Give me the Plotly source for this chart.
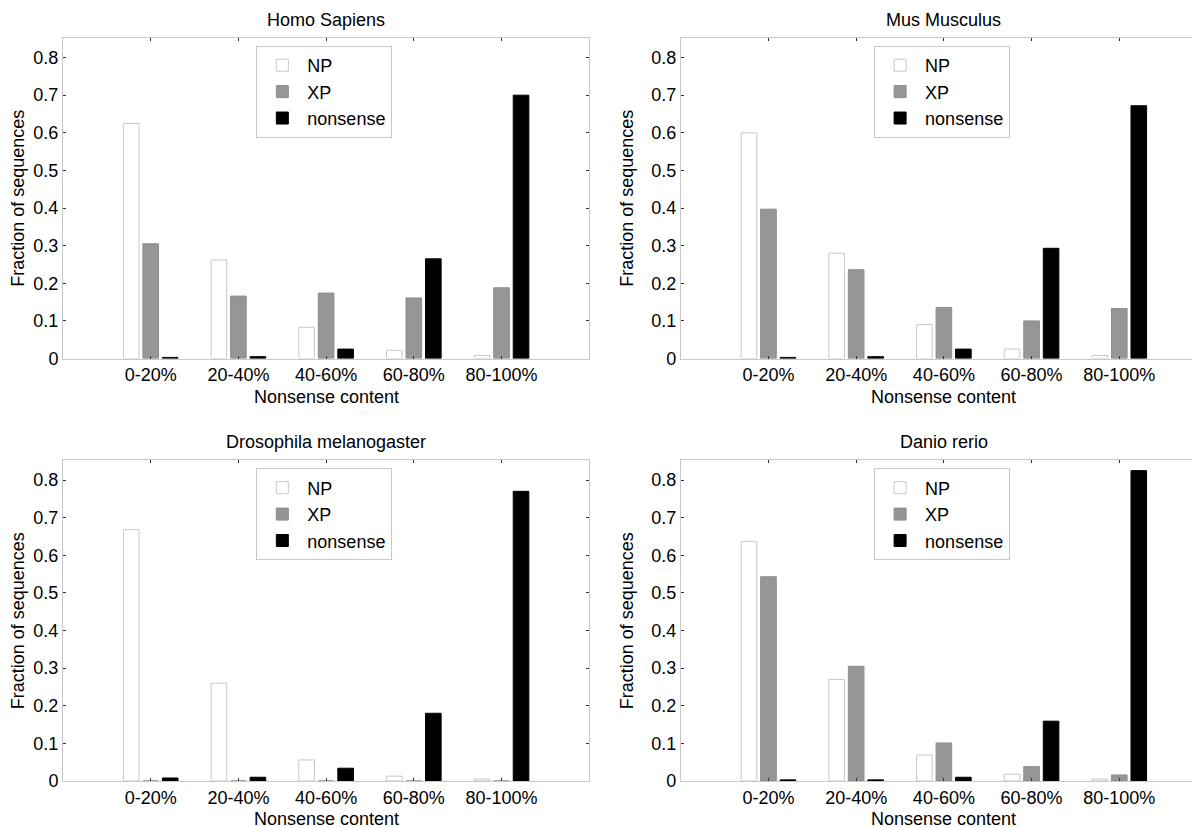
import plotly.graph_objects as go
from plotly.subplots import make_subplots

categories = ["0-20%", "20-40%", "40-60%", "60-80%", "80-100%"]
series_names = ["NP", "XP", "nonsense"]
titles = ["Homo Sapiens", "Mus Musculus", "Drosophila melanogaster", "Danio rerio"]
x_title = "Nonsense content"
y_title = "Fraction of sequences"

homo_np = [0.625, 0.262, 0.083, 0.022, 0.008]
homo_xp = [0.305, 0.166, 0.174, 0.161, 0.188]
homo_ns = [0.003, 0.005, 0.025, 0.265, 0.700]

mus_np = [0.600, 0.280, 0.090, 0.025, 0.008]
mus_xp = [0.397, 0.236, 0.136, 0.100, 0.133]
mus_ns = [0.003, 0.005, 0.025, 0.293, 0.672]

dros_np = [0.668, 0.260, 0.056, 0.013, 0.005]
dros_xp = [0.0, 0.0, 0.0, 0.0, 0.0]
dros_ns = [0.008, 0.010, 0.034, 0.180, 0.770]

danio_np = [0.637, 0.270, 0.069, 0.018, 0.005]
danio_xp = [0.543, 0.305, 0.101, 0.038, 0.016]
danio_ns = [0.003, 0.003, 0.010, 0.159, 0.825]

panels = [
    (homo_np, homo_xp, homo_ns),
    (mus_np, mus_xp, mus_ns),
    (dros_np, dros_xp, dros_ns),
    (danio_np, danio_xp, danio_ns),
]

fill_colors = ["#ffffff", "#969696", "#000000"]
line_colors = ["#c8c8c8", "#8c8c8c", "#000000"]

FONT = "Liberation Sans, Arial, sans-serif"

fig = make_subplots(rows=2, cols=2)

legend_ids = ["legend", "legend2", "legend3", "legend4"]
for k, vals in enumerate(panels):
    r, c = k // 2 + 1, k % 2 + 1
    for s, name in enumerate(series_names):
        fig.add_trace(
            go.Bar(
                x=categories,
                y=vals[s],
                name=name,
                marker=dict(color=fill_colors[s],
                            line=dict(color=line_colors[s], width=1)),
                legend=legend_ids[k],
                showlegend=True,
            ),
            row=r, col=c,
        )

# layout geometry (paper fractions)
left_dom = [0.0, 0.46]
right_dom = [0.540, 1.0]
top_dom = [0.5686, 1.0]
bot_dom = [0.0, 0.4314]

axis_common = dict(
    showline=True, linecolor="#c8c8c8", linewidth=1, mirror="ticks",
    ticks="inside", ticklen=3, tickcolor="#333333", showgrid=False,
    zeroline=False, tickfont=dict(family=FONT, size=18, color="black"),
)

for k in range(4):
    suffix = "" if k == 0 else str(k + 1)
    xd = left_dom if k % 2 == 0 else right_dom
    yd = top_dom if k < 2 else bot_dom
    fig.layout["xaxis" + suffix].update(
        domain=xd, range=[-1, 5], automargin=False, **axis_common,
    )
    fig.layout["yaxis" + suffix].update(
        domain=yd, range=[0, 0.852], dtick=0.1, tickformat="~g", automargin=False,
        title=dict(text=y_title, font=dict(family=FONT, size=18, color="black"), standoff=12),
        **axis_common,
    )
    # panel title
    fig.add_annotation(
        text=titles[k], xref="paper", yref="paper",
        x=(xd[0] + xd[1]) / 2, y=yd[1], xanchor="center", yanchor="middle",
        yshift=18, showarrow=False,
        font=dict(family=FONT, size=18, color="black"),
    )
    # x-axis title
    fig.add_annotation(
        text=x_title, xref="paper", yref="paper",
        x=(xd[0] + xd[1]) / 2, y=yd[0], xanchor="center", yanchor="middle",
        yshift=-38, showarrow=False,
        font=dict(family=FONT, size=18, color="black"),
    )

leg_pos = [(0.169, 0.9892), (0.709, 0.9892), (0.169, 0.4206), (0.709, 0.4206)]
for k, lid in enumerate(legend_ids):
    x, y = leg_pos[k]
    fig.layout[lid] = dict(
        x=x, y=y, xanchor="left", yanchor="top",
        bgcolor="white", bordercolor="#c8c8c8", borderwidth=1,
        font=dict(family=FONT, size=18, color="black"),
        tracegroupgap=0, itemwidth=40,
    )

fig.update_layout(
    width=1200, height=827,
    margin=dict(l=55, r=1, t=30, b=54),
    paper_bgcolor="white", plot_bgcolor="white",
    barmode="group", bargap=0.333, bargroupgap=0.2,
    font=dict(family=FONT, size=18, color="black"),
)

fig.write_html("out.html")
